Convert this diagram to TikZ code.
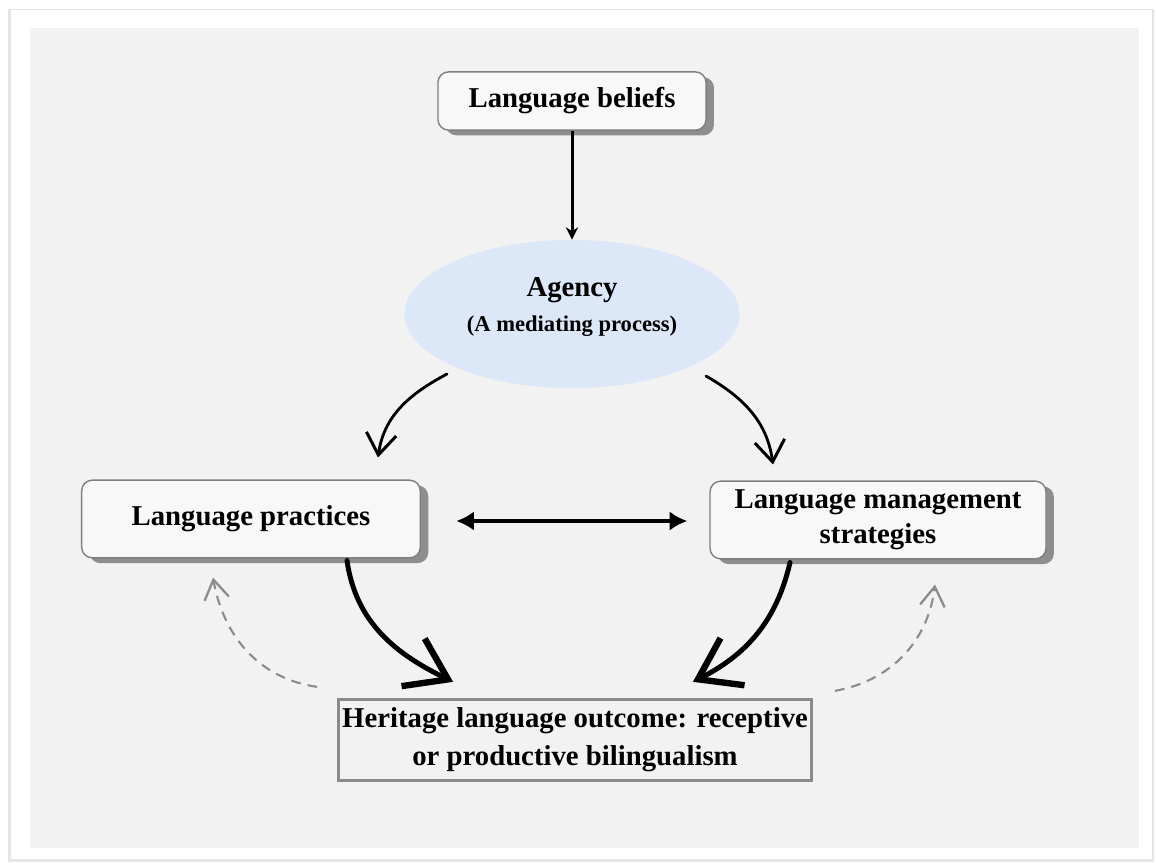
\documentclass[tikz,border=0pt]{standalone}
\usepackage{fontspec}
\setmainfont{Liberation Serif}
\usetikzlibrary{arrows.meta,shapes.geometric,shadows,calc}
\definecolor{panel}{HTML}{F2F2F2}
\definecolor{boxfill}{HTML}{F8F8F8}
\definecolor{boxedge}{HTML}{7F7F7F}
\definecolor{shadowc}{HTML}{8E8E8E}
\definecolor{agencyblue}{HTML}{DCE8F8}
\definecolor{dashc}{HTML}{8C8C8C}
\definecolor{heredge}{HTML}{8A8A8A}
\begin{document}
\begin{tikzpicture}[x=0.567pt,y=-0.567pt,
  txt/.style={font=\fontsize{16.3}{20}\selectfont\bfseries, text=black, align=center},
  rbox/.style={txt, draw=boxedge, line width=0.8pt, fill=boxfill, rounded corners=6pt, inner sep=0pt,
    drop shadow={shadow xshift=4.5pt, shadow yshift=-3pt, fill=shadowc, opacity=1}},
  thinarc/.style={line width=1.6pt, line cap=round, -{Straight Barb[length=12pt,width=17pt,line width=1.7pt]}},
  thickarc/.style={line width=2.8pt, line cap=round, -{Straight Barb[length=22pt,width=30pt,line width=3.6pt]}},
  dasharc/.style={line width=1.2pt, dashc, dash pattern=on 5.5pt off 4pt, -{Straight Barb[length=11pt,width=14pt,line width=1.3pt]}}
]
\useasboundingbox (0,0) rectangle (1156,863);
\fill[white] (0,0) rectangle (1156,863);
\fill[black!10] (8,9) rectangle (1154,862);
\fill[white] (10.5,10.5) rectangle (1152,859);
\fill[panel] (30,28) rectangle (1139,848);

\node[rbox, minimum width=152pt, minimum height=33pt] (beliefs) at (572,101) {Language beliefs};
\node[ellipse, fill=agencyblue, minimum width=190pt, minimum height=84pt, inner sep=0pt] (agency) at (572,314) {};
\node[txt] (agencytext) at (572,307) {Agency\\{\fontsize{12.8}{15}\selectfont (A mediating process)}};
\node[rbox, minimum width=192pt, minimum height=44pt] (practices) at (251,519) {Language practices};
\node[rbox, minimum width=190.5pt, minimum height=44pt] (management) at (878,520) {Language management\\strategies};
\node[txt, font=\fontsize{16.3}{21.5}\selectfont\bfseries, draw=heredge, line width=1.8pt, minimum width=268pt, minimum height=46pt, inner sep=0pt] (heritage) at (575,740) {Heritage language outcome: receptive\\or productive bilingualism};

\draw[line width=1.7pt, -{Stealth[length=7pt,width=7pt]}] (beliefs.south) -- (agency.north);
\draw[line width=2.8pt, {Latex[length=10pt,width=11pt]}-{Latex[length=10pt,width=11pt]}, shorten <=20pt, shorten >=12.5pt]
  ($(practices.east)+(0,2)$) -- ($(management.west)+(0,1)$);

\draw[thinarc] ($(agency.center)+(-125,60)$) to[out=208,in=82] ($(practices.north)+(127,-22)$);
\draw[thinarc] ($(agency.center)+(134,62)$) to[out=330,in=98] ($(management.north)+(-105,-16)$);

\draw[thickarc] ($(practices.south)+(96,2)$) to[out=-82,in=154] ($(heritage.north west)+(116,-16)$);
\draw[thickarc] ($(management.south)+(-88,3)$) to[out=257,in=27] ($(heritage.north east)+(-120,-16)$);

\draw[dasharc] ($(heritage.north west)+(-20,-11)$) to[out=172,in=-80] ($(practices.south)+(-38,19)$);
\draw[dasharc] ($(heritage.north east)+(22,-7)$) to[out=10,in=-97] ($(management.south)+(57,25)$);
\end{tikzpicture}
\end{document}
